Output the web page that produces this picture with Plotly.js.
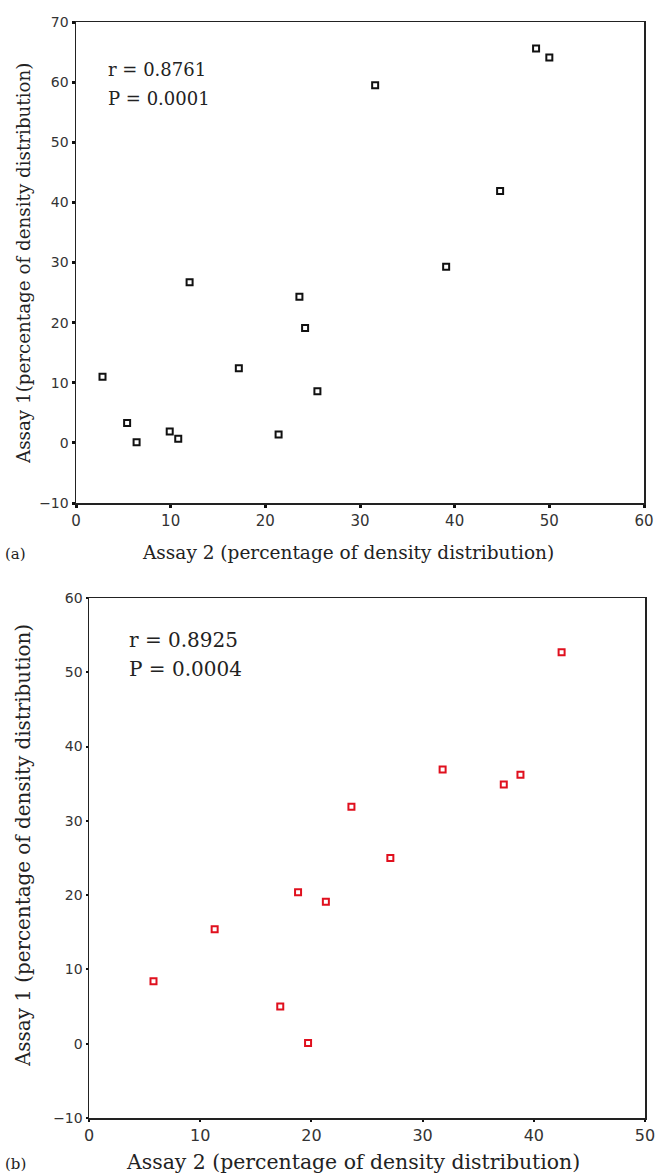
<!DOCTYPE html>
<html>
<head>
<meta charset="utf-8">
<script src="https://cdn.plot.ly/plotly-3.0.1.min.js"></script>
<style>html,body{margin:0;padding:0;background:#fff;}#chart{width:656px;height:1175px;}</style>
</head>
<body>
<div id="chart"></div>
<script>
// Panel (a): Assay 2 vs Assay 1
const assay2_a = [2.8, 5.4, 6.4, 9.9, 10.8, 12.0, 17.2, 21.4, 23.6, 24.2, 25.5, 31.6, 39.1, 44.8, 48.6, 50.0];
const assay1_a = [11.0, 3.3, 0.1, 1.9, 0.7, 26.7, 12.4, 1.4, 24.3, 19.1, 8.6, 59.5, 29.3, 41.9, 65.6, 64.1];
// Panel (b)
const assay2_b = [5.8, 11.3, 17.2, 18.8, 19.7, 21.3, 23.6, 27.1, 31.8, 37.3, 38.8, 42.5];
const assay1_b = [8.4, 15.4, 5.0, 20.4, 0.1, 19.1, 31.9, 25.0, 36.9, 34.9, 36.2, 52.7];

const stats_a = ["r = 0.8761", "P = 0.0001"];
const stats_b = ["r = 0.8925", "P = 0.0004"];
const panelLabels = ["(a)", "(b)"];
const xTitle = "Assay 2 (percentage of density distribution)";
const yTitle_a = "Assay 1(percentage of density distribution)";
const yTitle_b = "Assay 1 (percentage of density distribution)";

const W = 656, H = 1175;
const px = v => v / W;
const py = v => (H - v) / H;

const serif = "DejaVu Serif, serif";
const sans = "DejaVu Sans, sans-serif";
const ink = '#222';

const traces = [
  {x: assay2_a, y: assay1_a, xaxis: 'x', yaxis: 'y', type: 'scatter', mode: 'markers',
   marker: {symbol: 'square-open', size: 6, color: '#111', line: {width: 2, color: '#111'}}},
  {x: assay2_b, y: assay1_b, xaxis: 'x2', yaxis: 'y2', type: 'scatter', mode: 'markers',
   marker: {symbol: 'square-open', size: 6, color: '#e0101e', line: {width: 2, color: '#e0101e'}}}
];

function axisCommon(extra) {
  return Object.assign({
    showline: true, mirror: true, linecolor: ink, linewidth: 1.5,
    showgrid: false, zeroline: false, ticks: 'outside', tickcolor: '#111',
    automargin: false, fixedrange: true
  }, extra);
}

function txt(text, x, y, size, opts) {
  return Object.assign({text: text, xref: 'paper', yref: 'paper', x: px(x), y: py(y),
    xanchor: 'left', yanchor: 'middle', showarrow: false,
    font: {family: serif, size: size, color: ink}}, opts || {});
}

const layout = {
  width: W, height: H, showlegend: false,
  paper_bgcolor: '#fff', plot_bgcolor: '#fff',
  margin: {l: 0, r: 0, t: 0, b: 0},
  xaxis: axisCommon({domain: [px(76), px(644)], range: [0, 60], dtick: 10, tick0: 0,
    ticklen: 3, tickwidth: 3, anchor: 'y',
    tickfont: {family: sans, size: 15, color: '#333'}}),
  yaxis: axisCommon({domain: [py(503), py(22)], range: [-10, 70], dtick: 10, tick0: 0,
    ticklen: 3, tickwidth: 3, anchor: 'x',
    tickfont: {family: sans, size: 14, color: '#333'}}),
  xaxis2: axisCommon({domain: [px(89), px(645)], range: [0, 50], dtick: 10, tick0: 0,
    ticklen: 2, tickwidth: 2, anchor: 'y2',
    tickfont: {family: sans, size: 16, color: '#333'}}),
  yaxis2: axisCommon({domain: [py(1118), py(598)], range: [-10, 60], dtick: 10, tick0: 0,
    ticklen: 2, tickwidth: 2, anchor: 'x2',
    tickfont: {family: sans, size: 14, color: '#333'}}),
  annotations: [
    // axis titles
    txt(xTitle, 348, 552, 18.5, {xanchor: 'center'}),
    txt(yTitle_a, 24, 264, 18.3, {xanchor: 'center', textangle: -90}),
    txt(xTitle, 353, 1162, 20.4, {xanchor: 'center'}),
    txt(yTitle_b, 23, 846, 19.9, {xanchor: 'center', textangle: -90}),
    // statistics
    txt(stats_a[0], 106, 70, 18),
    txt(stats_a[1], 106, 98, 18),
    txt(stats_b[0], 127, 640, 20),
    txt(stats_b[1], 127, 669, 20),
    // panel labels
    txt(panelLabels[0], 3, 554, 15),
    txt(panelLabels[1], 3, 1164, 15)
  ]
};

Plotly.newPlot('chart', traces, layout, {displayModeBar: false, staticPlot: true});
</script>
</body>
</html>
